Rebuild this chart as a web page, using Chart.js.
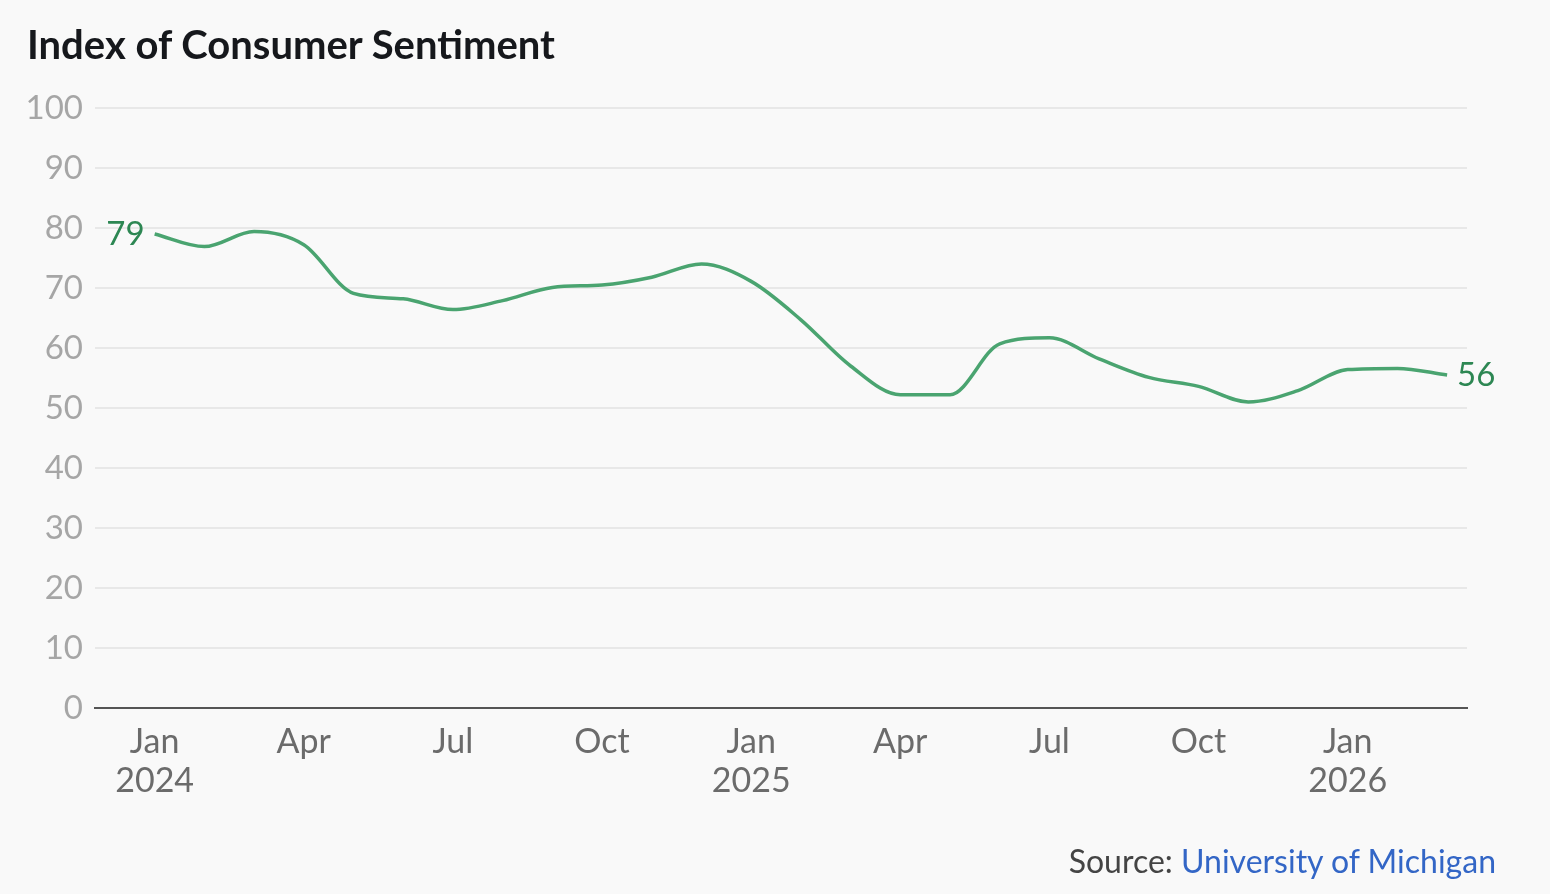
<!DOCTYPE html>
<html>
<head>
<meta charset="utf-8">
<script src="https://cdn.jsdelivr.net/npm/chart.js@4.4.1/dist/chart.umd.min.js"></script>
<style>
  html, body { margin: 0; padding: 0; background: #f9f9f9; }
  body { width: 1550px; height: 894px; position: relative; overflow: hidden; font-family: Lato, sans-serif; }
  #title { position: absolute; left: 27px; top: 20px; font-size: 40px; font-weight: 700; color: #16181c; letter-spacing: 0px; }
  #source { position: absolute; right: 54px; top: 841px; font-size: 32px; color: #444; }
  #source span { color: #3366c6; }
  #wrap { position: absolute; left: 0; top: 0; width: 1550px; height: 894px; }
</style>
</head>
<body>
<div id="wrap"><canvas id="sentimentChart" width="1550" height="894"></canvas></div>
<div id="title">Index of Consumer Sentiment</div>
<div id="source">Source: <span>University of Michigan</span></div>
<script>
// monthly, Jan 2024 .. Mar 2026
const months = ['Jan 2024','Feb 2024','Mar 2024','Apr 2024','May 2024','Jun 2024','Jul 2024','Aug 2024','Sep 2024','Oct 2024','Nov 2024','Dec 2024',
                'Jan 2025','Feb 2025','Mar 2025','Apr 2025','May 2025','Jun 2025','Jul 2025','Aug 2025','Sep 2025','Oct 2025','Nov 2025','Dec 2025',
                'Jan 2026','Feb 2026','Mar 2026'];
const sentiment = [79.0, 76.9, 79.4, 77.2, 69.1, 68.2, 66.4, 67.9, 70.1, 70.5, 71.8, 74.0,
                   71.1, 64.7, 57.0, 52.2, 52.2, 60.7, 61.7, 58.2, 55.1, 53.6, 51.0, 52.9,
                   56.4, 56.6, 55.5];
const xTickPos = [0, 3, 6, 9, 12, 15, 18, 21, 24];
const xTickLabels = [['Jan','2024'], 'Apr', 'Jul', 'Oct', ['Jan','2025'], 'Apr', 'Jul', 'Oct', ['Jan','2026']];
const yTicks = [0, 10, 20, 30, 40, 50, 60, 70, 80, 90, 100];

const lineColor = '#4aa470';
const labelColor = '#2d8753';

// start/end value labels
const endLabels = {
  id: 'endLabels',
  afterDatasetsDraw(chart) {
    const pts = chart.getDatasetMeta(0).data;
    const ctx = chart.ctx;
    ctx.save();
    ctx.font = '33px Lato';
    ctx.fillStyle = labelColor;
    ctx.textBaseline = 'middle';
    const first = pts[0], last = pts[pts.length - 1];
    ctx.textAlign = 'right';
    ctx.fillText(Math.round(sentiment[0]), first.x - 10, first.y);
    ctx.textAlign = 'left';
    ctx.fillText(Math.round(sentiment[sentiment.length - 1]), last.x + 10, last.y);
    ctx.restore();
  }
};

const ctx = document.getElementById('sentimentChart').getContext('2d');

const sentimentChart = new Chart(ctx, {
  type: 'line',
  data: {
    datasets: [{
      label: 'Index of Consumer Sentiment',
      data: sentiment.map((v, i) => ({ x: i, y: v })),
      borderColor: lineColor,
      borderWidth: 3.5,
      pointRadius: 0,
      fill: false,
      cubicInterpolationMode: 'monotone'
    }]
  },
  options: {
    responsive: false,
    animation: false,
    layout: { padding: { left: 0, right: 83, top: 108, bottom: 86 } },
    plugins: { legend: { display: false }, tooltip: { enabled: false } },
    scales: {
      x: {
        type: 'linear',
        min: -1.2,
        max: 26.4,
        afterBuildTicks: (scale) => { scale.ticks = xTickPos.map(v => ({ value: v })); },
        afterFit: (scale) => { scale.height = 100; },
        grid: { display: false, drawTicks: false },
        border: { display: true, color: '#555', width: 2 },
        ticks: {
          color: '#6b6b6b',
          font: { family: 'Lato', size: 34, lineHeight: 1.15 },
          padding: 14,
          maxRotation: 0,
          autoSkip: false,
          callback: (v) => xTickLabels[xTickPos.indexOf(v)]
        }
      },
      y: {
        min: 0,
        max: 100,
        afterBuildTicks: (scale) => { scale.ticks = yTicks.map(v => ({ value: v })); },
        afterFit: (scale) => { scale.width = 95; },
        grid: {
          drawTicks: false,
          lineWidth: 2,
          color: (c) => c.tick && c.tick.value === 0 ? 'rgba(0,0,0,0)' : '#e8e8e8'
        },
        border: { display: false },
        ticks: {
          color: '#a6a6a6',
          font: { family: 'Lato', size: 33 },
          padding: 12
        }
      }
    }
  },
  plugins: [endLabels]
});
</script>
</body>
</html>
